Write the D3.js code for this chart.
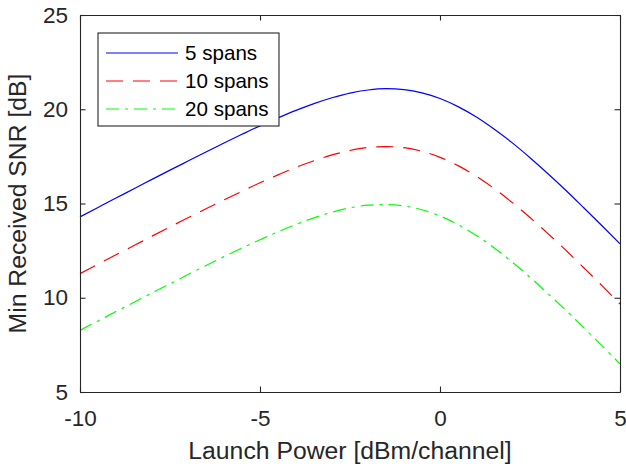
<!DOCTYPE html>
<html>
<head>
<meta charset="utf-8">
<script src="https://cdn.jsdelivr.net/npm/d3@7"></script>
<style>
  html, body { margin: 0; padding: 0; background: #fff; }
  svg { display: block; font-family: "Liberation Sans", Arial, Helvetica, sans-serif; }
</style>
</head>
<body>
<svg id="chart" width="626" height="469"></svg>
<script>
// Launch power sweep (dBm per channel)
const launchPower = [-10, -9.5, -9, -8.5, -8, -7.5, -7, -6.5, -6, -5.5, -5, -4.5, -4, -3.5, -3, -2.5,
  -2, -1.5, -1, -0.5, 0, 0.5, 1, 1.5, 2, 2.5, 3, 3.5, 4, 4.5, 5];

// Minimum received SNR (dB) for each link length
const snr5Spans = [14.29, 14.79, 15.29, 15.78, 16.28, 16.77, 17.25, 17.73, 18.21, 18.67, 19.12, 19.54,
  19.94, 20.30, 20.61, 20.86, 21.02, 21.09, 21.04, 20.87, 20.57, 20.14, 19.60, 18.95, 18.23, 17.43,
  16.58, 15.69, 14.76, 13.82, 12.86];
const snr10Spans = [11.28, 11.78, 12.28, 12.77, 13.27, 13.76, 14.24, 14.72, 15.19, 15.65, 16.10, 16.52,
  16.92, 17.27, 17.58, 17.81, 17.97, 18.02, 17.96, 17.77, 17.45, 17.01, 16.46, 15.80, 15.06, 14.26,
  13.40, 12.51, 11.58, 10.64, 9.67];
const snr20Spans = [8.27, 8.77, 9.27, 9.76, 10.26, 10.74, 11.23, 11.71, 12.18, 12.64, 13.08, 13.50,
  13.89, 14.24, 14.54, 14.77, 14.91, 14.95, 14.87, 14.67, 14.34, 13.88, 13.31, 12.65, 11.90, 11.09,
  10.22, 9.33, 8.40, 7.45, 6.49];

const seriesNames = ["5 spans", "10 spans", "20 spans"];
const xTicks = [-10, -5, 0, 5];
const yTicks = [5, 10, 15, 20, 25];

const series = [
  { name: seriesNames[0], values: snr5Spans,  color: "#0000ff", dash: null },
  { name: seriesNames[1], values: snr10Spans, color: "#ff0000", dash: "17,10" },
  { name: seriesNames[2], values: snr20Spans, color: "#00ff00", dash: "13,6,3,6" }
];

const ink = "#262626";
const tickFont = 22.5, labelFont = 24.75, legendFont = 20.6;
const box = { left: 80, right: 620, top: 15, bottom: 392 };
const plainNumber = d => String(d);   // ASCII hyphen for negatives

const svg = d3.select("#chart");

const x = d3.scaleLinear().domain([-10, 5]).range([box.left, box.right]);
const y = d3.scaleLinear().domain([5, 25]).range([box.bottom, box.top]);

// Curves
const line = d3.line()
  .x((d, i) => x(launchPower[i]))
  .y(d => y(d))
  .curve(d3.curveMonotoneX);

const curves = svg.append("g");
series.forEach(s => {
  curves.append("path")
    .attr("d", line(s.values))
    .attr("fill", "none")
    .attr("stroke", s.color)
    .attr("stroke-width", 1.2)
    .attr("stroke-dasharray", s.dash);
});

// Axes: ticks point inward on all four sides, box closed
const tickLen = 5.5;
const axisStyle = g => {
  g.selectAll(".domain").attr("stroke", ink).attr("stroke-width", 1.1);
  g.selectAll(".tick line").attr("stroke", ink).attr("stroke-width", 1.1);
  g.selectAll(".tick text").attr("fill", ink).style("font-size", tickFont + "px");
};

svg.append("g")
  .attr("transform", `translate(0,${box.bottom})`)
  .call(d3.axisBottom(x).tickValues(xTicks).tickSizeInner(-tickLen).tickSizeOuter(0).tickPadding(18)
    .tickFormat(plainNumber))
  .call(axisStyle)
  .call(g => g.selectAll(".tick text").attr("dy", "0.71em"));

svg.append("g")
  .attr("transform", `translate(0,${box.top})`)
  .call(d3.axisTop(x).tickValues(xTicks).tickSizeInner(-tickLen).tickSizeOuter(0).tickFormat(""))
  .call(axisStyle);

svg.append("g")
  .attr("transform", `translate(${box.left},0)`)
  .call(d3.axisLeft(y).tickValues(yTicks).tickSizeInner(-tickLen).tickSizeOuter(0).tickPadding(12)
    .tickFormat(plainNumber))
  .call(axisStyle);

svg.append("g")
  .attr("transform", `translate(${box.right},0)`)
  .call(d3.axisRight(y).tickValues(yTicks).tickSizeInner(-tickLen).tickSizeOuter(0).tickFormat(""))
  .call(axisStyle);

// Axis titles
svg.append("text")
  .attr("x", (box.left + box.right) / 2)
  .attr("y", 459)
  .attr("text-anchor", "middle")
  .attr("fill", ink)
  .style("font-size", labelFont + "px")
  .text("Launch Power [dBm/channel]");

svg.append("text")
  .attr("transform", `translate(26,${(box.top + box.bottom) / 2}) rotate(-90)`)
  .attr("text-anchor", "middle")
  .attr("fill", ink)
  .style("font-size", labelFont + "px")
  .text("Min Received SNR [dB]");

// Legend
const legend = svg.append("g").attr("transform", "translate(98,33)");
legend.append("rect")
  .attr("x", 0).attr("y", 0).attr("width", 181).attr("height", 93)
  .attr("fill", "#fff").attr("stroke", ink).attr("stroke-width", 1.1);

series.forEach((s, i) => {
  const cy = 20 + i * 28;
  legend.append("line")
    .attr("x1", 8).attr("x2", 80).attr("y1", cy).attr("y2", cy)
    .attr("stroke", s.color).attr("stroke-width", 1.2)
    .attr("stroke-dasharray", s.dash);
  legend.append("text")
    .attr("x", 87).attr("y", cy)
    .attr("dy", "0.36em")
    .attr("fill", "#000")
    .style("font-size", legendFont + "px")
    .text(s.name);
});
</script>
</body>
</html>
